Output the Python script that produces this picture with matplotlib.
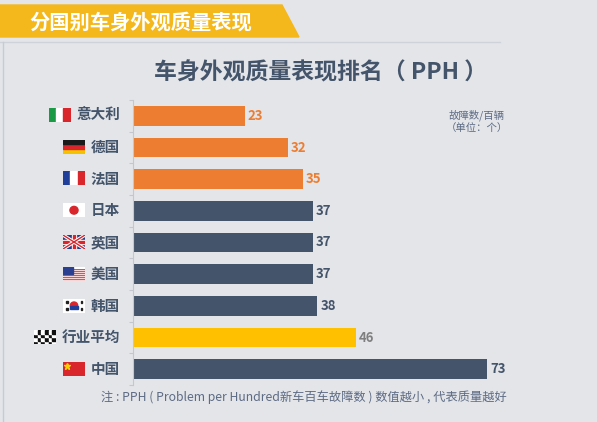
import matplotlib
matplotlib.use("Agg")
import matplotlib.pyplot as plt
from matplotlib.patches import Polygon, Rectangle, Circle

plt.rcParams["font.family"] = ["Noto Sans CJK SC", "DejaVu Sans"]

COUNTRIES = ["意大利", "德国", "法国", "日本", "英国", "美国", "韩国", "行业平均", "中国"]
PPH = [23, 32, 35, 37, 37, 37, 38, 46, 73]
GROUPS = ["eu", "eu", "eu", "other", "other", "other", "other", "avg", "other"]
FLAGS = ["it", "de", "fr", "jp", "uk", "us", "kr", "checker", "cn"]

BANNER = "分国别车身外观质量表现"
TITLE = "车身外观质量表现排名（ PPH ）"
UNIT = "故障数/百辆\n（单位：个）"
NOTE = "注 : PPH ( Problem per Hundred新车百车故障数 ) 数值越小 , 代表质量越好"

BG = "#e3e5e9"
NAVY = "#44546a"
BAR_COLORS = {"eu": "#ed7d31", "other": NAVY, "avg": "#ffc000"}
LABEL_COLORS = {"eu": "#ed7d31", "other": NAVY, "avg": "#7f7f7f"}

W, H = 597, 422


def fig_box(x0, y0, x1, y1):
    # pixel box (top-left origin) -> figure fraction rect
    return [x0 / W, 1 - y1 / H, (x1 - x0) / W, (y1 - y0) / H]


def draw_flag(fig, kind, cx, cy):
    fx = fig.add_axes(fig_box(cx - 11, cy - 7, cx + 11, cy + 7))
    fx.set_xlim(0, 3)
    fx.set_ylim(0, 2)
    fx.axis("off")
    if kind == "it":
        for i, c in enumerate(["#1a9a45", "white", "#d8262c"]):
            fx.add_patch(Rectangle((i, 0), 1, 2, color=c))
    elif kind == "fr":
        for i, c in enumerate(["#1f3f9a", "white", "#d8262c"]):
            fx.add_patch(Rectangle((i, 0), 1, 2, color=c))
    elif kind == "de":
        for i, c in enumerate(["#f4c300", "#d8262c", "#1a1a1a"]):
            fx.add_patch(Rectangle((0, i * 2 / 3), 3, 2 / 3, color=c))
    elif kind == "jp":
        fx.add_patch(Rectangle((0, 0), 3, 2, color="white"))
        fx.add_patch(Circle((1.5, 1), 0.55, color="#d8262c"))
    elif kind == "kr":
        fx.add_patch(Rectangle((0, 0), 3, 2, color="white"))
        fx.add_patch(Circle((1.5, 1), 0.5, color="#d8262c"))
        fx.add_patch(Rectangle((1.0, 0.5), 1.0, 0.5, color="#1f3f9a"))
        for x in (0.4, 2.4):
            for y in (0.3, 1.4):
                fx.add_patch(Rectangle((x, y), 0.25, 0.3, color="#222222"))
    elif kind == "uk":
        fx.add_patch(Rectangle((0, 0), 3, 2, color="#1f3f8a"))
        fx.plot([0, 3], [0, 2], color="white", lw=2.5)
        fx.plot([0, 3], [2, 0], color="white", lw=2.5)
        fx.plot([0, 3], [0, 2], color="#d8262c", lw=1)
        fx.plot([0, 3], [2, 0], color="#d8262c", lw=1)
        fx.add_patch(Rectangle((0, 0.7), 3, 0.6, color="white"))
        fx.add_patch(Rectangle((1.2, 0), 0.6, 2, color="white"))
        fx.add_patch(Rectangle((0, 0.82), 3, 0.36, color="#d8262c"))
        fx.add_patch(Rectangle((1.32, 0), 0.36, 2, color="#d8262c"))
    elif kind == "us":
        for i in range(7):
            fx.add_patch(Rectangle((0, i * 2 / 7), 3, 1 / 7, color="#d8262c"))
            fx.add_patch(Rectangle((0, i * 2 / 7 + 1 / 7), 3, 1 / 7, color="white"))
        fx.add_patch(Rectangle((0, 1.0), 1.3, 1.0, color="#2a3f8f"))
    elif kind == "checker":
        for i in range(6):
            for j in range(4):
                c = "#111111" if (i + j) % 2 == 0 else "white"
                fx.add_patch(Rectangle((i * 0.5, j * 0.5), 0.5, 0.5, color=c))
    elif kind == "cn":
        fx.add_patch(Rectangle((0, 0), 3, 2, color="#d8262c"))
        fx.plot([0.6], [1.4], marker="*", color="#f4d000", markersize=5)


fig = plt.figure(figsize=(W / 100, H / 100), dpi=100, facecolor=BG)

# banner, title and notes drawn in pixel coordinates
bx = fig.add_axes([0, 0, 1, 1], facecolor="none")
bx.set_xlim(0, W)
bx.set_ylim(H, 0)
bx.axis("off")
bx.add_patch(Polygon([(0, 5), (282, 5), (299, 37), (0, 37)], closed=True, color="#f5b81c"))
bx.text(29, 22, BANNER, color="white", fontsize=14.6, fontweight="bold", va="center", ha="left")
bx.plot([0, 500], [42, 42], color="#cfd2d8", lw=1)
bx.plot([3, 3], [42, H], color="#c8ccd2", lw=1)
bx.text(321, 73, TITLE, color=NAVY, fontsize=16.5, fontweight="bold", ha="center", va="center")
bx.text(477, 121, UNIT, color="#5d6b84", fontsize=7.5, ha="center", va="center", linespacing=1.2)
bx.text(304, 397, NOTE, color="#5d6b84", fontsize=8.8, ha="center", va="center")

# bars
ax = fig.add_axes(fig_box(133, 100, 560, 385), facecolor="none")
ypos = list(range(len(COUNTRIES)))
ax.barh(ypos, PPH, height=0.63, color=[BAR_COLORS[g] for g in GROUPS])
ax.set_xlim(0, 88)
ax.set_ylim(len(COUNTRIES) - 0.5, -0.5)
for s in ("top", "right", "bottom"):
    ax.spines[s].set_visible(False)
ax.spines["left"].set_color("#c4c8ce")
ax.set_xticks([])
ax.set_yticks([i - 0.5 for i in range(len(COUNTRIES) + 1)])
ax.set_yticklabels([])
ax.tick_params(axis="y", length=3, color="#c4c8ce")

for i, (v, g) in enumerate(zip(PPH, GROUPS)):
    ax.text(v + 0.6, i, str(v), color=LABEL_COLORS[g], fontsize=9.5,
            fontweight="bold", va="center", ha="left")

for i, (name, flag) in enumerate(zip(COUNTRIES, FLAGS)):
    cy = 115 + i * 31.75
    bx.text(120, cy, name, color=NAVY, fontsize=10.5, fontweight="bold", ha="right", va="center")
    right = 120 - len(name) * 14.5 - 6
    draw_flag(fig, flag, right - 11, cy)

fig.savefig("out.png", dpi=100, facecolor=BG)
